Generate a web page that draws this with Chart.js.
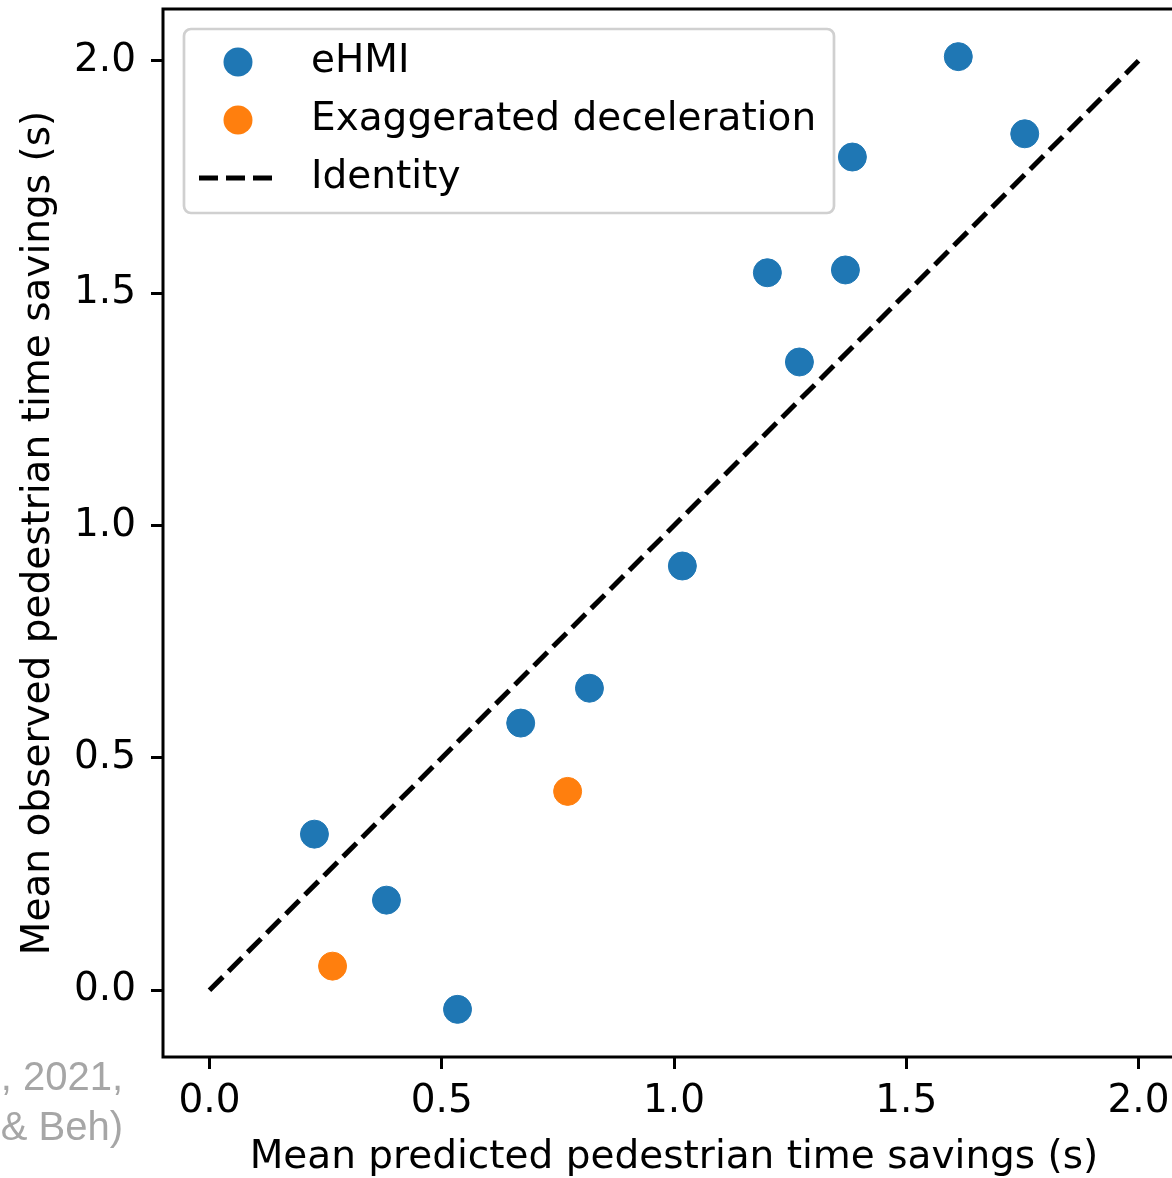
<!DOCTYPE html>
<html>
<head>
<meta charset="utf-8">
<script src="https://cdn.jsdelivr.net/npm/chart.js@4.4.1/dist/chart.umd.min.js"></script>
<style>
  html, body { margin: 0; padding: 0; background: #fff; }
  #wrap { position: relative; width: 1172px; height: 1178px; overflow: hidden; background: #fff; }
  #chart { position: absolute; left: 0; top: -6px; }
  #side {
    position: absolute; left: -200px; top: 1051px; width: 323px;
    text-align: right; font-family: "Liberation Sans", Arial, sans-serif;
    font-size: 40px; line-height: 50px; color: #a6a6a6; white-space: nowrap;
  }
</style>
</head>
<body>
<div id="wrap">
  <canvas id="chart" width="1200" height="1184"></canvas>
  <div id="side">, 2021,<br>&amp; Beh)</div>
</div>
<script>
// =======================
// DATA
// =======================
const ehmiPredicted = [0.226, 0.381, 0.534, 0.670, 0.818, 1.018, 1.201, 1.270, 1.369, 1.384, 1.612, 1.755];
const ehmiObserved  = [0.336, 0.194, -0.041, 0.575, 0.650, 0.913, 1.544, 1.352, 1.550, 1.793, 2.009, 1.843];

const decelPredicted = [0.265, 0.771];
const decelObserved  = [0.052, 0.428];

const identityX = [0, 2];
const identityY = [0, 2];

const tickValues = [0, 0.5, 1.0, 1.5, 2.0];

const xLabel = 'Mean predicted pedestrian time savings (s)';
const yLabel = 'Mean observed pedestrian time savings (s)';

const BLUE = '#1f77b4';
const ORANGE = '#ff7f0e';
const FONT = '"DejaVu Sans", sans-serif';
const FSIZE = 39;
const SHIFT = 6; // canvas sits 6px above the page top

const toPoints = (xs, ys) => xs.map((x, i) => ({ x: x, y: ys[i] }));

// =======================
// PLUGINS
// =======================
const framePlugin = {
    id: 'frame',
    afterDatasetsDraw(chart) {
        const { ctx, chartArea: a } = chart;
        ctx.save();
        ctx.strokeStyle = '#000';
        ctx.lineWidth = 3;
        ctx.strokeRect(a.left, a.top, a.right - a.left, a.bottom - a.top);
        ctx.restore();
    }
};

const legendPlugin = {
    id: 'boxLegend',
    afterDraw(chart) {
        const ctx = chart.ctx;
        const x0 = 184, y0 = 29 + SHIFT, w = 650, h = 184, r = 7;
        ctx.save();
        ctx.beginPath();
        ctx.roundRect(x0, y0, w, h, r);
        ctx.fillStyle = 'rgba(255,255,255,0.8)';
        ctx.fill();
        ctx.lineWidth = 2.7;
        ctx.strokeStyle = '#d0d0d0';
        ctx.stroke();

        const rows = [62, 120, 178];
        ctx.font = FSIZE + 'px ' + FONT;
        ctx.textBaseline = 'middle';
        chart.data.datasets.forEach((ds, i) => {
            const y = rows[i] + SHIFT;
            if (ds.type === 'line') {
                ctx.beginPath();
                ctx.setLineDash(ds.borderDash);
                ctx.lineWidth = ds.borderWidth;
                ctx.strokeStyle = ds.borderColor;
                ctx.moveTo(199, y);
                ctx.lineTo(278, y);
                ctx.stroke();
                ctx.setLineDash([]);
            } else {
                ctx.beginPath();
                ctx.arc(238, y, 14.5, 0, Math.PI * 2);
                ctx.fillStyle = ds.backgroundColor;
                ctx.fill();
            }
            ctx.fillStyle = '#000';
            ctx.fillText(ds.label, 311, y);
        });
        ctx.restore();
    }
};

// =======================
// CHART
// =======================
const axisCommon = {
    type: 'linear',
    border: { display: false },
    grid: {
        drawOnChartArea: false,
        drawTicks: true,
        tickLength: 12,
        tickWidth: 3,
        tickColor: '#000'
    },
    afterBuildTicks: (scale) => {
        scale.ticks = tickValues.map(v => ({ value: v }));
    }
};

const noPad = (scale) => {
    scale.paddingTop = 0;
    scale.paddingBottom = 0;
    scale.paddingLeft = 0;
    scale.paddingRight = 0;
};

new Chart(document.getElementById('chart'), {
    type: 'scatter',
    data: {
        datasets: [
            {
                label: 'eHMI',
                data: toPoints(ehmiPredicted, ehmiObserved),
                backgroundColor: BLUE,
                borderColor: BLUE,
                borderWidth: 1,
                pointRadius: 14,
                order: 1
            },
            {
                label: 'Exaggerated deceleration',
                data: toPoints(decelPredicted, decelObserved),
                backgroundColor: ORANGE,
                borderColor: ORANGE,
                borderWidth: 1,
                pointRadius: 14,
                order: 1
            },
            {
                type: 'line',
                label: 'Identity',
                data: toPoints(identityX, identityY),
                borderColor: '#000',
                borderWidth: 5,
                borderDash: [19, 8],
                pointRadius: 0,
                fill: false,
                order: 0
            }
        ]
    },
    options: {
        responsive: false,
        animation: false,
        layout: { padding: { top: 4, right: 14.5, left: 0, bottom: 0 } },
        plugins: {
            legend: { display: false },
            tooltip: { enabled: false }
        },
        scales: {
            x: {
                ...axisCommon,
                min: -0.1,
                max: 2.1,
                ticks: {
                    color: '#000',
                    font: { family: FONT, size: FSIZE },
                    padding: 9,
                    maxRotation: 0,
                    autoSkip: false,
                    callback: v => v.toFixed(1)
                },
                title: {
                    display: true,
                    text: xLabel,
                    color: '#000',
                    font: { family: FONT, size: FSIZE, lineHeight: 1.2 },
                    padding: { top: 0, bottom: -3 }
                },
                afterFit: (scale) => { scale.height = 121; noPad(scale); }
            },
            y: {
                ...axisCommon,
                min: -0.1435,
                max: 2.1115,
                ticks: {
                    color: '#000',
                    font: { family: FONT, size: FSIZE },
                    padding: 15,
                    autoSkip: false,
                    callback: v => v.toFixed(1)
                },
                title: {
                    display: true,
                    text: yLabel,
                    color: '#000',
                    font: { family: FONT, size: FSIZE, lineHeight: 1.2 },
                    padding: { top: 15, bottom: 0 }
                },
                afterFit: (scale) => { scale.width = 163; noPad(scale); }
            }
        }
    },
    plugins: [framePlugin, legendPlugin]
});
</script>
</body>
</html>
